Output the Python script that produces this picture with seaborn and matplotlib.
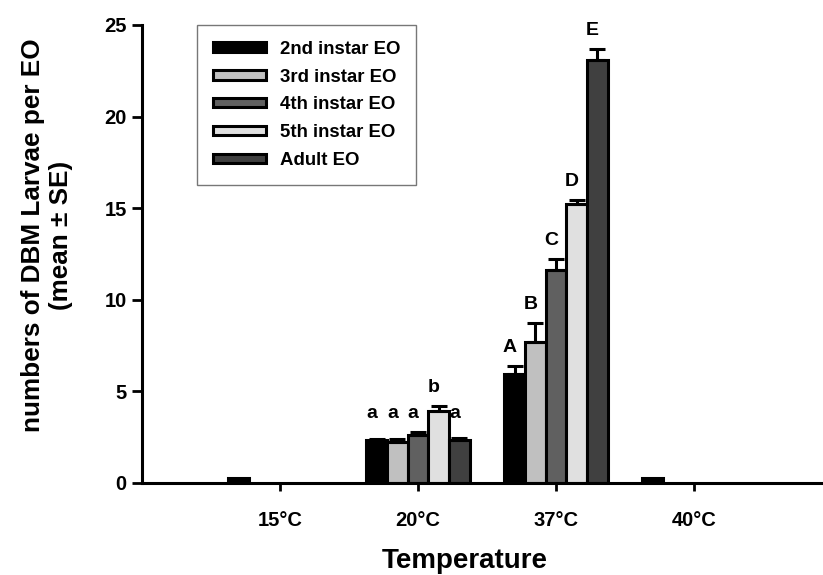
import numpy as np
import pandas as pd
import matplotlib
matplotlib.use("Agg")
import matplotlib.pyplot as plt
import seaborn as sns
from matplotlib.patches import Patch

# Mean number of DBM larvae per egg-ovipositing (EO) stage at each temperature
temperatures = ["15°C", "20°C", "37°C", "40°C"]
stages = ["2nd instar EO", "3rd instar EO", "4th instar EO", "5th instar EO", "Adult EO"]
colors = ["#000000", "#c0c0c0", "#606060", "#e0e0e0", "#404040"]

means = {
    "2nd instar EO": [0.30, 2.35, 5.95, 0.30],
    "3rd instar EO": [None, 2.25, 7.70, None],
    "4th instar EO": [None, 2.60, 11.65, None],
    "5th instar EO": [None, 3.95, 15.25, None],
    "Adult EO":      [None, 2.35, 23.10, None],
}
ses = {
    "2nd instar EO": [0.0, 0.05, 0.45, 0.0],
    "3rd instar EO": [None, 0.15, 1.05, None],
    "4th instar EO": [None, 0.20, 0.55, None],
    "5th instar EO": [None, 0.25, 0.20, None],
    "Adult EO":      [None, 0.12, 0.60, None],
}
letters = {
    "2nd instar EO": [None, "a", "A", None],
    "3rd instar EO": [None, "a", "B", None],
    "4th instar EO": [None, "a", "C", None],
    "5th instar EO": [None, "b", "D", None],
    "Adult EO":      [None, "a", "E", None],
}

rows = []
for s in stages:
    for i, t in enumerate(temperatures):
        if means[s][i] is not None:
            rows.append({"Temperature": t, "Stage": s, "Mean": means[s][i],
                         "SE": ses[s][i], "Letter": letters[s][i]})
df = pd.DataFrame(rows)
df["Top"] = df["Mean"] + df["SE"]
# letters shared within a temperature group sit at a common height
df["LetterY"] = df.groupby(["Temperature", "Letter"])["Top"].transform("max")

sns.set_style("ticks")
plt.rcParams["font.family"] = ["Liberation Sans", "DejaVu Sans"]
plt.rcParams["font.weight"] = "bold"
for key in ["text.color", "axes.labelcolor", "xtick.color", "ytick.color",
            "axes.edgecolor"]:
    plt.rcParams[key] = "black"

fig = plt.figure(figsize=(8.23, 5.75), dpi=100)
ax = fig.add_axes([142 / 823, 92 / 575, 681 / 823, 458 / 575])

sns.barplot(data=df, x="Temperature", y="Mean", hue="Stage",
            order=temperatures, hue_order=stages, palette=colors,
            width=0.75, edgecolor="black", linewidth=2.2, saturation=1,
            errorbar=None, legend=False, ax=ax)

# one-sided (upper) error bars and significance letters
lookup = {(r.Stage, temperatures.index(r.Temperature)): r for r in df.itertuples()}
for stage, cont in zip(stages, ax.containers):
    for bar in cont:
        xc = bar.get_x() + bar.get_width() / 2
        idx = int(round(xc))
        r = lookup.get((stage, idx))
        if r is None:
            continue
        if r.SE > 0:
            ax.errorbar(xc, r.Mean, yerr=[[0], [r.SE]], fmt="none",
                        ecolor="black", elinewidth=2.2, capsize=5.5,
                        capthick=2.2, zorder=1)
        if r.Letter:
            ax.text(xc - 0.035, r.LetterY + 0.55, r.Letter, color="black",
                    ha="center", va="bottom", fontsize=14, fontweight="bold")

ax.set_xlim(-1.0, 3.935)
ax.set_ylim(0, 25)
ax.set_yticks([0, 5, 10, 15, 20, 25])
ax.set_yticklabels(["0", "5", "10", "15", "20", "25"])

for side in ["top", "right"]:
    ax.spines[side].set_visible(False)
for side in ["left", "bottom"]:
    ax.spines[side].set_linewidth(2.2)
    ax.spines[side].set_color("black")

ax.tick_params(axis="both", direction="out", width=2, colors="black",
               labelcolor="black", labelsize=14.5)
ax.tick_params(axis="y", length=7, pad=4)
ax.tick_params(axis="x", length=6, pad=14)
for lab in ax.get_xticklabels() + ax.get_yticklabels():
    lab.set_fontweight("bold")

ax.set_xlabel("Temperature", fontsize=20, fontweight="bold", color="black")
ax.xaxis.set_label_coords(0.474, -0.142)
ax.set_ylabel("numbers of DBM Larvae per EO\n(mean ± SE)", fontsize=18.8,
              fontweight="bold", linespacing=1.2, color="black")
ax.yaxis.set_label_coords(-0.101, 0.54)

handles = [Patch(facecolor=c, edgecolor="black", linewidth=2.2) for c in colors]
leg = fig.legend(handles, stages, loc="upper left",
                 bbox_to_anchor=(197 / 823, 1 - 25 / 575),
                 prop={"weight": "bold", "size": 13.4},
                 frameon=True, fancybox=False, shadow=False,
                 handlelength=2.85, handleheight=0.4, handletextpad=0.75,
                 labelspacing=0.58, borderpad=0.85, borderaxespad=0)
leg.get_frame().set_edgecolor("#555555")
leg.get_frame().set_linewidth(1)
for txt in leg.get_texts():
    txt.set_color("black")

fig.savefig("out.png", dpi=100)
